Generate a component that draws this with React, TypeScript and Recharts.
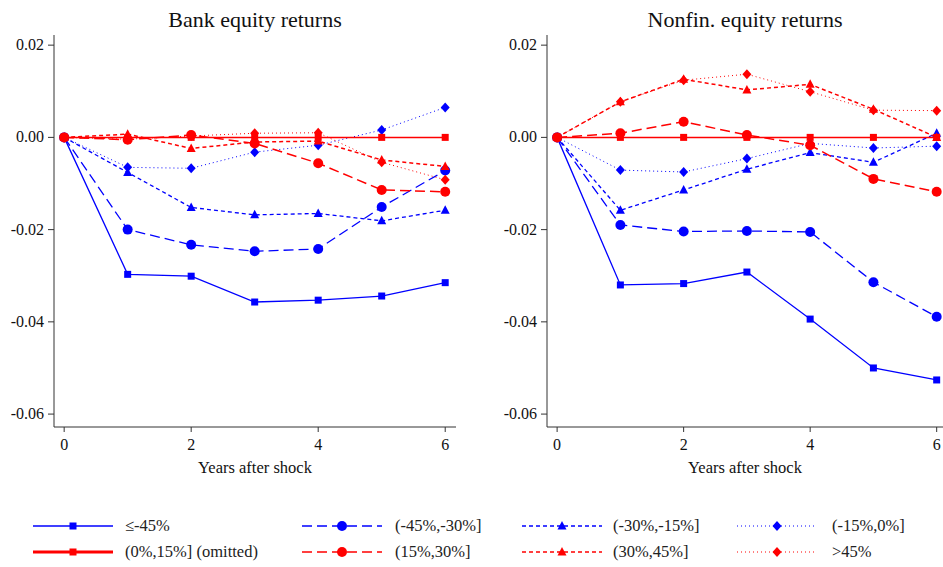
import { LineChart, Line, XAxis, YAxis } from 'recharts'

const years = [0, 1, 2, 3, 4, 5, 6]

// Bank equity returns
const bankLe45 = [0, -0.0297, -0.0301, -0.0357, -0.0353, -0.0344, -0.0315]
const bankM45to30 = [0, -0.02, -0.0233, -0.0247, -0.0242, -0.0151, -0.0072]
const bankM30to15 = [0, -0.0076, -0.0152, -0.0168, -0.0165, -0.0181, -0.0158]
const bankM15to0 = [0, -0.0065, -0.0067, -0.0032, -0.0017, 0.0016, 0.0065]
const bank0to15 = [0, 0, 0, 0, 0, 0, 0]
const bank15to30 = [0, -0.0005, 0.0005, -0.0013, -0.0056, -0.0114, -0.0118]
const bank30to45 = [0, 0.0007, -0.0024, -0.001, -0.0008, -0.0049, -0.0063]
const bankGt45 = [0, -0.0004, 0.0003, 0.0009, 0.001, -0.0054, -0.0092]

// Nonfin. equity returns
const nonfinLe45 = [0, -0.032, -0.0317, -0.0292, -0.0394, -0.05, -0.0526]
const nonfinM45to30 = [0, -0.019, -0.0204, -0.0203, -0.0205, -0.0314, -0.0389]
const nonfinM30to15 = [0, -0.0158, -0.0114, -0.0069, -0.0033, -0.0054, 0.0009]
const nonfinM15to0 = [0, -0.0071, -0.0075, -0.0046, -0.0013, -0.0023, -0.0019]
const nonfin0to15 = [0, 0, 0, 0, 0, 0, 0]
const nonfin15to30 = [0, 0.0009, 0.0034, 0.0005, -0.0017, -0.009, -0.0118]
const nonfin30to45 = [0, 0.0077, 0.0126, 0.0103, 0.0115, 0.0061, 0.0]
const nonfinGt45 = [0, 0.0077, 0.0124, 0.0137, 0.0099, 0.0059, 0.0058]

const xTicks = [0, 2, 4, 6]
const yTicks = [0.02, 0, -0.02, -0.04, -0.06]

const BLUE = '#0000ff'
const RED = '#ff0000'
const FONT = '"Liberation Serif", "Times New Roman", serif'

type Shape = 'square' | 'circle' | 'triangle' | 'diamond'

const seriesDefs: { key: string; label: string; color: string; dash?: string; shape: Shape; width: number }[] = [
  { key: 'le45', label: '≤-45%', color: BLUE, shape: 'square', width: 1.3 },
  { key: 'm45to30', label: '(-45%,-30%]', color: BLUE, dash: '10 5', shape: 'circle', width: 1.3 },
  { key: 'm30to15', label: '(-30%,-15%]', color: BLUE, dash: '4 3', shape: 'triangle', width: 1.3 },
  { key: 'm15to0', label: '(-15%,0%]', color: BLUE, dash: '1 3', shape: 'diamond', width: 1 },
  { key: 'p0to15', label: '(0%,15%] (omitted)', color: RED, shape: 'square', width: 1.5 },
  { key: 'p15to30', label: '(15%,30%]', color: RED, dash: '10 5', shape: 'circle', width: 1.5 },
  { key: 'p30to45', label: '(30%,45%]', color: RED, dash: '4 3', shape: 'triangle', width: 1.5 },
  { key: 'gt45', label: '>45%', color: RED, dash: '1 3', shape: 'diamond', width: 1 },
]

const bankSeries = [bankLe45, bankM45to30, bankM30to15, bankM15to0, bank0to15, bank15to30, bank30to45, bankGt45]
const nonfinSeries = [nonfinLe45, nonfinM45to30, nonfinM30to15, nonfinM15to0, nonfin0to15, nonfin15to30, nonfin30to45, nonfinGt45]

function buildRows(series: number[][]) {
  return years.map((yr, i) => {
    const row: Record<string, number> = { year: yr }
    seriesDefs.forEach((s, j) => {
      row[s.key] = series[j][i]
    })
    return row
  })
}

function MarkerShape({ cx, cy, shape, color }: { cx: number; cy: number; shape: Shape; color: string }) {
  if (shape === 'square') return <rect x={cx - 3.5} y={cy - 3.5} width={7} height={7} fill={color} />
  if (shape === 'circle') return <circle cx={cx} cy={cy} r={5} fill={color} />
  if (shape === 'triangle')
    return <polygon points={`${cx},${cy - 5} ${cx + 4.5},${cy + 3.5} ${cx - 4.5},${cy + 3.5}`} fill={color} />
  return <polygon points={`${cx},${cy - 5} ${cx + 4.5},${cy} ${cx},${cy + 5} ${cx - 4.5},${cy}`} fill={color} />
}

const fmtY = (v: number) => (v < 0 ? '-' + Math.abs(v).toFixed(2) : v.toFixed(2))

const YTick = (p: any) => (
  <text x={p.x} y={p.y} dy={5} textAnchor="end" fill="#111" fontSize={16} fontFamily={FONT}>
    {fmtY(p.payload.value)}
  </text>
)

const XTick = (p: any) => (
  <text x={p.x} y={p.y} dy={13} textAnchor="middle" fill="#111" fontSize={16} fontFamily={FONT}>
    {p.payload.value}
  </text>
)

function Panel({ title, series, left, width, xMax }: { title: string; series: number[][]; left: number; width: number; xMax: number }) {
  const rows = buildRows(series)
  const rightPad = xMax > 6.1 ? 14 : 0
  const plotLeft = left + 54
  const plotRight = left + width - rightPad
  return (
    <>
      <div
        style={{
          position: 'absolute',
          left: plotLeft,
          width: plotRight - plotLeft,
          top: 6,
          textAlign: 'center',
          fontSize: 22,
          lineHeight: '28px',
          color: '#111',
        }}
      >
        {title}
      </div>
      <div style={{ position: 'absolute', left, top: 0, overflow: 'hidden', width, height: 480 }}>
        <LineChart width={width} height={480} data={rows} margin={{ top: 35, right: rightPad, bottom: 0, left: 0 }}>
          <XAxis
            dataKey="year"
            type="number"
            domain={[-0.16, xMax]}
            ticks={xTicks}
            allowDataOverflow
            height={53}
            tickSize={5}
            tickMargin={5}
            stroke="#333"
            tick={XTick}
            label={{ value: 'Years after shock', position: 'insideBottom', offset: 7, fill: '#111', fontSize: 16.5, fontFamily: FONT }}
          />
          <YAxis
            type="number"
            domain={[-0.0628, 0.0222]}
            ticks={yTicks}
            allowDataOverflow
            width={54}
            tickSize={6}
            tickMargin={4}
            stroke="#333"
            tick={YTick}
          />
          {seriesDefs.map((s) => (
            <Line
              key={s.key}
              dataKey={s.key}
              stroke={s.color}
              strokeWidth={s.width}
              strokeDasharray={s.dash}
              isAnimationActive={false}
              type="linear"
              dot={(p: any) => <MarkerShape key={`${s.key}-${p.index}`} cx={p.cx} cy={p.cy} shape={s.shape} color={s.color} />}
              activeDot={false}
            />
          ))}
        </LineChart>
      </div>
    </>
  )
}

const legendCols = [
  { lineX: 33, labelX: 125 },
  { lineX: 302, labelX: 395 },
  { lineX: 522, labelX: 613 },
  { lineX: 737, labelX: 832 },
]
const legendRows = [526, 552]

function LegendItem({ def, x, labelX, y }: { def: (typeof seriesDefs)[number]; x: number; labelX: number; y: number }) {
  const len = 80
  const w = def.key === 'p0to15' ? 3 : def.width
  return (
    <>
      <svg style={{ position: 'absolute', left: x, top: y - 8 }} width={len + 2} height={16}>
        <line x1={0} y1={8} x2={len} y2={8} stroke={def.color} strokeWidth={w} strokeDasharray={def.dash} />
        <MarkerShape cx={len / 2} cy={8} shape={def.shape} color={def.color} />
      </svg>
      <div
        style={{
          position: 'absolute',
          left: labelX,
          top: y - 11,
          fontSize: 16.5,
          color: '#222',
          whiteSpace: 'nowrap',
          lineHeight: '22px',
        }}
      >
        {def.label}
      </div>
    </>
  )
}

export default function App() {
  return (
    <div
      style={{
        position: 'absolute',
        left: 0,
        top: 0,
        width: 943,
        height: 567,
        background: '#fff',
        overflow: 'hidden',
        fontFamily: FONT,
      }}
    >
      <Panel title="Bank equity returns" series={bankSeries} left={0} width={470} xMax={6.17} />
      <Panel title="Nonfin. equity returns" series={nonfinSeries} left={493} width={450} xMax={6.1} />
      {seriesDefs.map((def, i) => (
        <LegendItem
          key={def.key}
          def={def}
          x={legendCols[i % 4].lineX}
          labelX={legendCols[i % 4].labelX}
          y={legendRows[Math.floor(i / 4)]}
        />
      ))}
    </div>
  )
}
